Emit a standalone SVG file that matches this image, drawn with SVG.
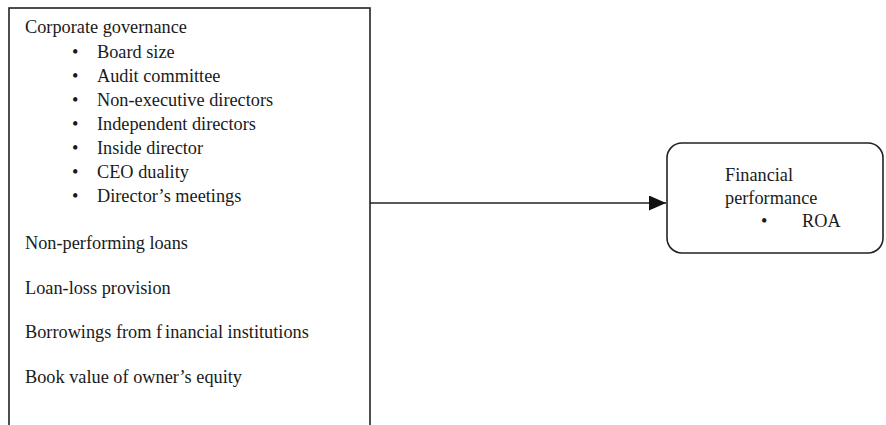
<svg xmlns="http://www.w3.org/2000/svg" width="886" height="425" viewBox="0 0 886 425">
<style>
text{font-family:"Liberation Serif","Times New Roman",serif;font-size:18.3px;fill:#1a1a1a}
.box{fill:#fff;stroke:#222;stroke-width:1.6}
.conn{stroke:#222;stroke-width:1.6;fill:none}
</style>
<defs>
<marker id="arr" markerWidth="18" markerHeight="16" refX="17" refY="7.5" orient="auto" markerUnits="userSpaceOnUse">
<path d="M0,0 L17,7.5 L0,15 Z" fill="#111"/>
</marker>
</defs>
<rect width="886" height="425" fill="#fff"/>
<g id="determinants">
<rect class="box" x="9" y="8" width="361" height="430"/>
<text x="25" y="33">Corporate governance</text>
<g>
<text x="72" y="57.5">•</text><text x="97" y="57.5">Board size</text>
<text x="72" y="81.5">•</text><text x="97" y="81.5">Audit committee</text>
<text x="72" y="105.5">•</text><text x="97" y="105.5">Non-executive directors</text>
<text x="72" y="129.5">•</text><text x="97" y="129.5">Independent directors</text>
<text x="72" y="153.5">•</text><text x="97" y="153.5">Inside director</text>
<text x="72" y="177.5">•</text><text x="97" y="177.5">CEO duality</text>
<text x="72" y="201.5">•</text><text x="97" y="201.5">Director’s meetings</text>
</g>
<text x="25" y="249">Non-performing loans</text>
<text x="25" y="294">Loan-loss provision</text>
<text x="25" y="338">Borrowings from f<tspan dx="3">inancial institutions</tspan></text>
<text x="25" y="383">Book value of owner’s equity</text>
</g>
<g id="connectors">
<line class="conn" x1="370" y1="203" x2="666" y2="203" marker-end="url(#arr)"/>
</g>
<g id="performance">
<rect class="box" x="667" y="143" width="216" height="110" rx="15" ry="15"/>
<text x="725" y="181">Financial</text>
<text x="725" y="204">performance</text>
<text x="761" y="227">•</text><text x="802" y="227">ROA</text>
</g>
</svg>
